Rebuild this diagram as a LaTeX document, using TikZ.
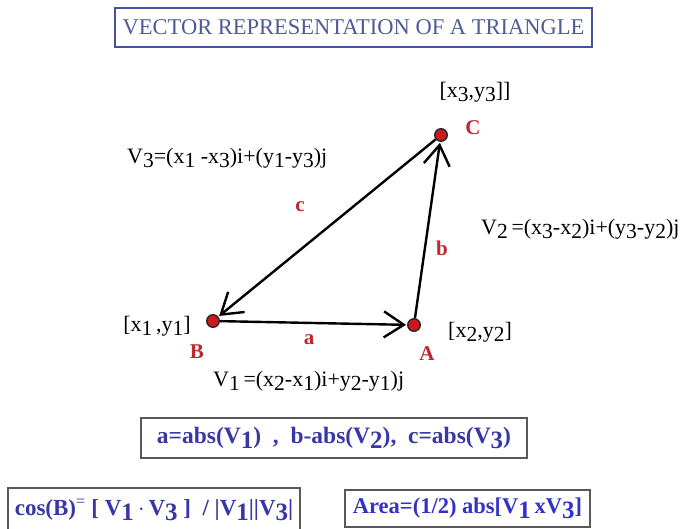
\documentclass[tikz,border=0pt]{standalone}
\usepackage{fontspec}
\setmainfont{Liberation Serif}
\usetikzlibrary{arrows.meta}
\definecolor{titleblue}{RGB}{80,90,150}
\definecolor{boxblue}{RGB}{70,80,160}
\definecolor{textblue}{RGB}{55,55,165}
\definecolor{areablue}{RGB}{50,50,200}
\definecolor{dotred}{RGB}{205,25,30}
\definecolor{lblred}{RGB}{190,40,45}
\newcommand\lw[1]{\raisebox{-0.45ex}{\fontsize{21.5}{21.5}\selectfont #1}}
\newcommand\lwb[1]{\raisebox{-0.45ex}{\fontsize{25}{25}\selectfont #1}}
\begin{document}
\begin{tikzpicture}[x=1pt,y=-1pt,
  vertex/.style={circle, fill=dotred, draw=black!85, line width=1.4pt, inner sep=0pt, minimum size=12.5pt},
  vec/.style={line width=2.4pt, -{Straight Barb[length=20pt,width=26pt]}, shorten >=1pt},
  formula/.style={font=\fontsize{22}{24}\selectfont, inner sep=0pt},
  vlabel/.style={font=\bfseries\fontsize{21}{22}\selectfont, text=lblred, inner sep=0pt},
  infobox/.style={draw=black!65, line width=1.2pt, font=\bfseries\fontsize{23.5}{24}\selectfont, text=textblue, inner sep=0pt}
]
\useasboundingbox[fill=white] (0,0) rectangle (680,529);

% title
\node[draw=boxblue, line width=2pt, minimum width=477pt, minimum height=39pt, inner sep=0pt,
      text=titleblue, font=\fontsize{22.5}{24}\selectfont] (title) at (353.5,27.5) {VECTOR REPRESENTATION OF A TRIANGLE};

% vertices
\node[vertex] (B) at (213,321) {};
\node[vertex] (A) at (414,325) {};
\node[vertex] (C) at (441,135) {};

% vectors
\draw[vec] (B) -- (A);
\draw[vec] (A) -- (C);
\draw[vec] (C) -- (B);

% vertex labels
\node[vlabel] (lC) at (473,128) {C};
\node[vlabel] (lB) at (197,352) {B};
\node[vlabel] (lA) at (427,354) {A};
\node[vlabel] (la) at (309,340) {a};
\node[vlabel] (lb) at (442,248) {b};
\node[vlabel] (lc) at (300,207) {c};

% coordinates
\node[formula] (p3) at (475,92) {[x\lw3,y\lw3]]};
\node[formula] (p1) at (157,326) {[x\lw1\,,y\lw1]};
\node[formula] (p2) at (480,332) {[x\lw2,y\lw2]};

% formulas
\node[formula, anchor=west] (v3) at (127,158) {V\lw3=(x\lw1 -x\lw3)i+(y\lw1-y\lw3)j};
\node[formula, anchor=west] (v2) at (481,229) {V\lw2\,=(x\lw3-x\lw2)i+(y\lw3-y\lw2)j};
\node[formula, anchor=west] (v1) at (213,381) {V\lw1\,=(x\lw2-x\lw1)i+y\lw2-y\lw1)j};

% boxes
\node[infobox, minimum width=386pt, minimum height=40pt] (abs) at (334,438)
  {a=abs(V\lwb1)~~,~~b-abs(V\lwb2),~~c=abs(V\lwb3)};
\node[infobox, font=\bfseries\fontsize{23}{24}\selectfont, minimum width=292pt, minimum height=44pt] (cos) at (154,510)
  {cos(B)\textsuperscript{\normalfont=}~[~V\lwb1\,$\cdot$\,V\lwb3~]~~/~|V\lwb1||V\lwb3|};
\node[infobox, text=areablue, minimum width=245pt, minimum height=37pt, font=\bfseries\fontsize{22.5}{24}\selectfont] (area) at (467.5,508.5)
  {Area=(1/2) abs[V\lwb1\,xV\lwb3]};
\end{tikzpicture}
\end{document}
